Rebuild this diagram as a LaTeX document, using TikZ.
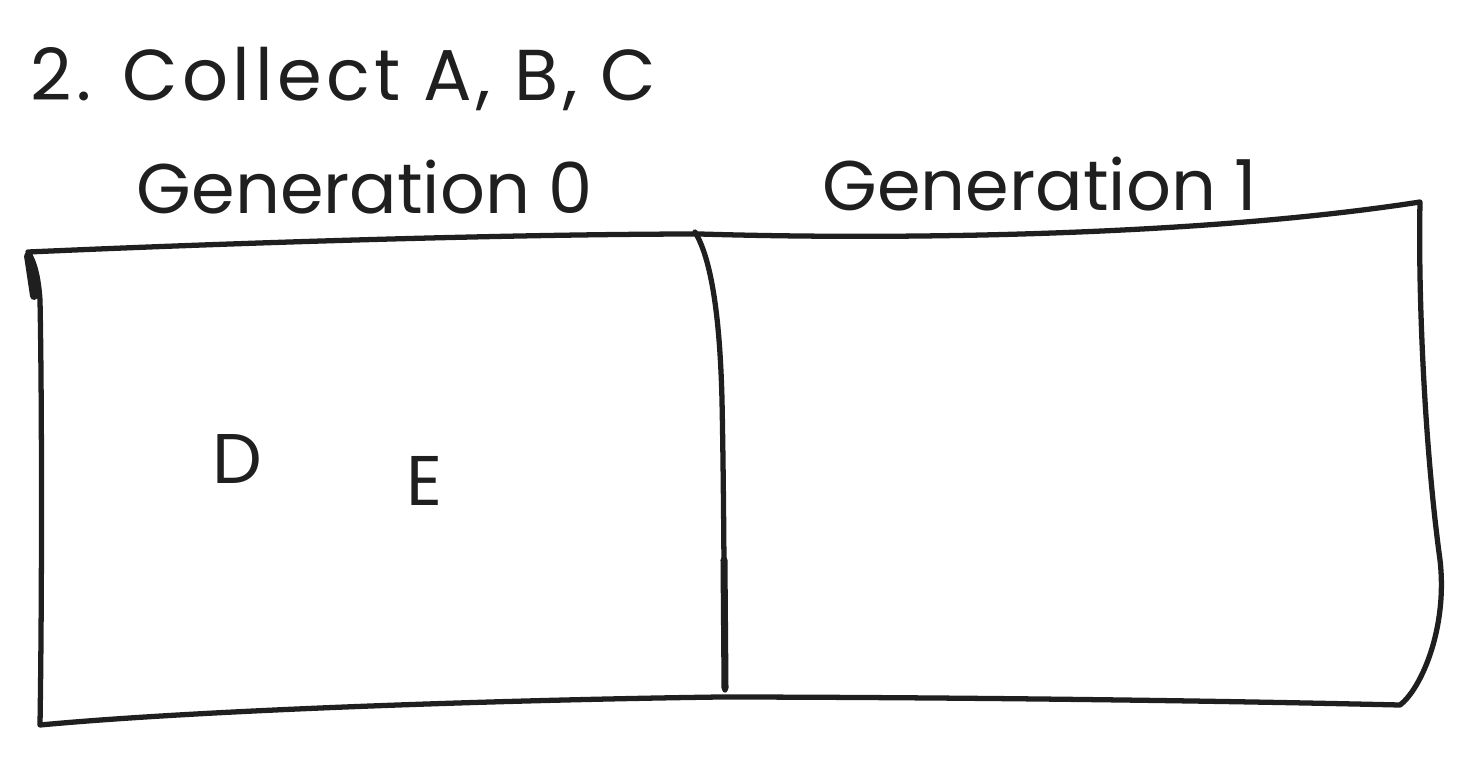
\documentclass[tikz,border=0pt]{standalone}
\usepackage{fontspec}
\setmainfont{Poppins}
\begin{document}
\begin{tikzpicture}[x=0.02cm,y=-0.02cm,
  sketch/.style={line width=3pt,line cap=round,line join=round,draw=black!88},
  lbl/.style={font=\fontsize{40}{48}\selectfont,text=black!88,inner sep=0pt}]
\useasboundingbox (0,0) rectangle (1468,758);
% outer box
\draw[sketch] (28,252) .. controls (300,240) and (550,234) .. (700,234)
  .. controls (900,240) and (1200,236) .. (1420,202)
  .. controls (1418,300) and (1425,450) .. (1440,560)
  .. controls (1448,630) and (1420,690) .. (1400,705)
  .. controls (1100,698) and (800,697) .. (720,697)
  .. controls (500,700) and (200,710) .. (40,725)
  .. controls (42,600) and (42,400) .. (40,300)
  .. controls (38,270) and (32,258) .. (28,252);
\draw[sketch,line width=4.5pt] (28,256) -- (34,296);
% divider
\draw[sketch] (695,232) .. controls (712,260) and (720,320) .. (722,400)
  .. controls (724,500) and (724,600) .. (725,690);
\draw[sketch,line width=4pt] (724,560) -- (725,688);
\node[lbl,anchor=base west,font=\fontsize{41}{48}\selectfont\addfontfeature{LetterSpace=6}] (title) at (30,100) {2. Collect A, B, C};
\node[lbl,anchor=base] (g0) at (365,213) {Generation 0};
\node[lbl,anchor=base] (g1) at (1040,210) {Generation 1};
\node[lbl,anchor=base] (d) at (237,483) {D};
\node[lbl,anchor=base] (e) at (425,505) {E};
\end{tikzpicture}
\end{document}
